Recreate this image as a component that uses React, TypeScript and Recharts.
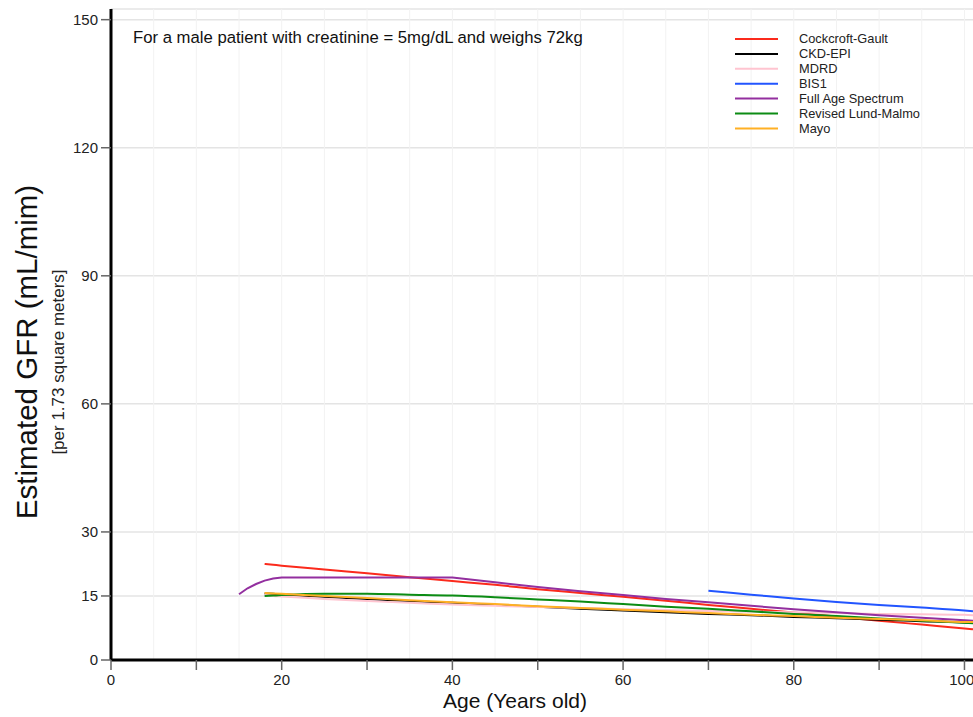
import React from 'react';
import { LineChart, Line, XAxis, YAxis, CartesianGrid, ReferenceLine } from 'recharts';

// ages
const ages = [15, 16, 17, 18, 19, 20, 25, 30, 35, 40, 45, 50, 55, 60, 65, 70, 75, 80, 85, 90, 95, 100, 101];

const cockcroftGault = [null, null, null, 22.5, 22.3, 22.1, 21.2, 20.3, 19.4, 18.5, 17.6, 16.6, 15.7, 14.8, 13.9, 12.9, 12.0, 11.1, 10.2, 9.2, 8.3, 7.4, 7.2];
const ckdEpi = [null, null, null, 15.6, 15.5, 15.4, 14.8, 14.3, 13.8, 13.4, 12.9, 12.5, 12.0, 11.6, 11.2, 10.8, 10.5, 10.1, 9.8, 9.4, 9.1, 8.8, 8.7];
const mdrd = [null, null, null, 15.2, 15.0, 14.9, 14.3, 13.8, 13.4, 13.0, 12.7, 12.4, 12.2, 11.9, 11.7, 11.5, 11.3, 11.2, 11.0, 10.8, 10.7, 10.6, 10.5];
const bis1 = [null, null, null, null, null, null, null, null, null, null, null, null, null, null, null, 16.2, 15.3, 14.4, 13.6, 12.9, 12.3, 11.6, 11.4];
const fullAgeSpectrum = [15.4, 16.8, 17.8, 18.6, 19.1, 19.3, 19.3, 19.3, 19.3, 19.3, 18.2, 17.1, 16.1, 15.2, 14.3, 13.5, 12.7, 11.9, 11.2, 10.5, 9.9, 9.3, 9.2];
const lundMalmo = [null, null, null, 15.0, 15.1, 15.2, 15.5, 15.5, 15.3, 15.1, 14.7, 14.2, 13.7, 13.1, 12.5, 12.0, 11.4, 10.8, 10.3, 9.7, 9.2, 8.7, 8.6];
const mayo = [null, null, null, 15.7, 15.6, 15.5, 15.0, 14.5, 14.0, 13.5, 13.1, 12.6, 12.2, 11.8, 11.4, 11.0, 10.6, 10.3, 9.9, 9.6, 9.3, 8.9, 8.9];

const xTicks = [0, 10, 20, 30, 40, 50, 60, 70, 80, 90, 100];
const yTicks = [0, 15, 30, 60, 90, 120, 150];
const minorGrid = [5, 10, 15, 20, 25, 30, 35, 40, 45, 50, 55, 60, 65, 70, 75, 80, 85, 90, 95, 100];

const series = [
  { key: 'cg', name: 'Cockcroft-Gault', color: '#fb2a1c', values: cockcroftGault, curve: 'monotone' },
  { key: 'ckd', name: 'CKD-EPI', color: '#000000', values: ckdEpi, curve: 'monotone' },
  { key: 'mdrd', name: 'MDRD', color: '#ffc4d0', values: mdrd, curve: 'monotone' },
  { key: 'bis', name: 'BIS1', color: '#2255ff', values: bis1, curve: 'monotone' },
  { key: 'fas', name: 'Full Age Spectrum', color: '#932f9f', values: fullAgeSpectrum, curve: 'linear' },
  { key: 'lm', name: 'Revised Lund-Malmo', color: '#0c8c14', values: lundMalmo, curve: 'monotone' },
  { key: 'mayo', name: 'Mayo', color: '#ffb024', values: mayo, curve: 'monotone' },
];

const data = ages.map((age, i) => {
  const row: Record<string, number | null> = { age };
  series.forEach((s) => {
    row[s.key] = s.values[i];
  });
  return row;
});

const font = '"Liberation Sans", Arial, Helvetica, sans-serif';

export default function App() {
  return (
    <div style={{ position: 'absolute', left: 0, top: 0, width: 973, height: 717, background: '#fff', fontFamily: font }}>
      <LineChart width={973} height={717} data={data} margin={{ top: 9, right: 0, bottom: 27, left: 0 }}>
        <CartesianGrid vertical={false} stroke="#e4e4e4" strokeWidth={1.5} />
        {minorGrid.map((x) => (
          <ReferenceLine key={x} x={x} stroke="#f2f2f2" strokeWidth={1} />
        ))}
        <XAxis
          dataKey="age"
          type="number"
          domain={[0, 101]}
          ticks={xTicks}
          allowDataOverflow
          height={30}
          tickSize={10}
          tickMargin={4}
          tickFormatter={(v: number) => (v % 20 === 0 ? String(v) : '')}
          tick={{ fill: '#222', fontSize: 15, fontFamily: font }}
          axisLine={{ stroke: '#000', strokeWidth: 3 }}
          tickLine={{ stroke: '#666', strokeWidth: 1.5 }}
        />
        <YAxis
          type="number"
          domain={[0, 152.5]}
          ticks={yTicks}
          allowDataOverflow
          width={111}
          tickSize={10}
          tickMargin={3}
          tick={{ fill: '#222', fontSize: 15, fontFamily: font }}
          axisLine={{ stroke: '#000', strokeWidth: 3 }}
          tickLine={{ stroke: '#666', strokeWidth: 1.5 }}
        />
        {series.map((s) => (
          <Line
            key={s.key}
            dataKey={s.key}
            name={s.name}
            type={s.curve as 'monotone' | 'linear'}
            stroke={s.color}
            strokeWidth={2}
            dot={false}
            activeDot={false}
            isAnimationActive={false}
          />
        ))}
      </LineChart>
      <svg width={973} height={717} style={{ position: 'absolute', left: 0, top: 0, pointerEvents: 'none' }}>
        <text x={133} y={43} fontSize={16.7} fill="#111" fontFamily={font}>
          For a male patient with creatinine = 5mg/dL and weighs 72kg
        </text>
        {series.map((s, i) => (
          <g key={s.key}>
            <line x1={735} x2={778} y1={39 + i * 14.9} y2={39 + i * 14.9} stroke={s.color} strokeWidth={2} />
            <text x={799} y={39 + i * 14.9} dy="0.35em" fontSize={12.8} fill="#222" fontFamily={font}>
              {s.name}
            </text>
          </g>
        ))}
        <text
          transform="translate(37,352) rotate(-90)"
          textAnchor="middle"
          fontSize={29.5}
          fill="#111"
          fontFamily={font}
        >
          Estimated GFR (mL/mim)
        </text>
        <text
          transform="translate(64,362) rotate(-90)"
          textAnchor="middle"
          fontSize={17}
          fill="#222"
          fontFamily={font}
        >
          [per 1.73 square meters]
        </text>
        <text x={515} y={708} textAnchor="middle" fontSize={21} fill="#111" fontFamily={font}>
          Age (Years old)
        </text>
      </svg>
    </div>
  );
}
